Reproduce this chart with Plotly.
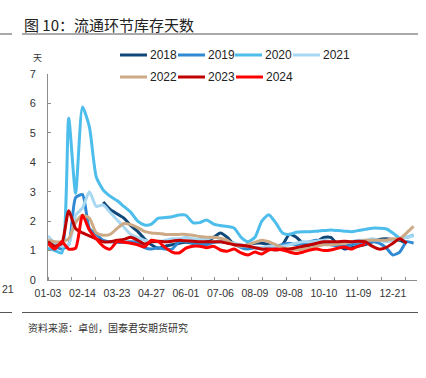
import plotly.graph_objects as go

# ---------------- data ----------------
tick_labels = ["01-03", "02-14", "03-23", "04-27", "06-01", "07-06",
               "08-09", "09-08", "10-10", "11-09", "12-21"]
tick_pos = [0, 5, 10, 15, 20, 25, 30, 35, 40, 45, 50]

years = ["2018", "2019", "2020", "2021", "2022", "2023", "2024"]

y2018 = [None, None, None, None, None, None, None, None,
         2.65, 2.4, 2.25, 2.1, 1.85, 1.65, 1.4, 1.2, 1.08, 1.15, 1.2, 1.25,
         1.28, 1.25, 1.25, 1.3, 1.45, 1.6, 1.45, 1.2, 1.15, 1.2, 1.25, 1.25,
         1.2, 1.1, 1.2, 1.55, 1.45, 1.25, 1.15, 1.3, 1.45, 1.45, 1.2, 1.05,
         1.1, 1.15, 1.2, 1.3, 1.38, 1.4, 1.38, 1.35, 1.25]
y2019 = [1.3, 1.15, 1.05, 1.2, 2.8, 2.9, 1.75, 1.55, 1.35, 1.3, 1.28, 1.28,
         1.3, 1.28, 1.1, 1.05, 1.1, 1.05, 1.05, 1.3, 1.3, 1.25, 1.22, 1.2,
         1.28, 1.3, 1.28, 1.25, 1.1, 1.05, 1.1, 1.05, 1.1, 1.15, 1.2, 1.25,
         1.2, 1.25, 1.3, 1.35, 1.25, 1.2, 1.15, 1.15, 1.2, 1.25, 1.25, 1.3,
         1.25, 1.1, 0.85, 0.95, 1.3, 1.25]
y2020 = [1.08, 1.0, 0.92, 5.5, 2.95, 5.88, 5.2, 3.5, 3.06, 2.85, 2.7, 2.5,
         2.3, 2.0, 1.87, 1.9, 2.1, 2.12, 2.15, 2.21, 2.2, 1.95, 1.95, 2.04,
         1.9, 1.85, 1.82, 1.76, 1.45, 1.3, 1.45, 2.0, 2.22, 1.95, 1.6, 1.55,
         1.62, 1.64, 1.64, 1.66, 1.68, 1.7, 1.68, 1.66, 1.64, 1.68, 1.72, 1.76,
         1.76, 1.74, 1.6, 1.42, 1.45, 1.53]
y2021 = [1.5, 1.25, 1.15, 1.2, 2.2, 2.45, 3.0, 2.5, 2.55, 2.3, 2.05, 1.8,
         1.55, 1.45, 1.35, 1.3, 1.3, 1.35, 1.4, 1.4, 1.45, 1.4, 1.38, 1.4,
         1.45, 1.4, 1.3, 1.25, 1.2, 1.15, 1.1, 1.1, 1.15, 1.15, 1.15, 1.2,
         1.25, 1.3, 1.3, 1.32, 1.35, 1.3, 1.25, 1.25, 1.3, 1.35, 1.35, 1.4,
         1.35, 1.3, 1.35, 1.4, 1.45, 1.5]
y2022 = [1.35, 1.3, 1.3, 1.4, 1.95, 2.2, 2.1, 1.6, 1.52, 1.55, 1.75, 1.92,
         1.88, 1.78, 1.65, 1.6, 1.58, 1.55, 1.55, 1.55, 1.55, 1.52, 1.48, 1.45,
         1.45, 1.42, 1.35, 1.2, 1.15, 1.2, 1.28, 1.35, 1.3, 1.2, 1.1, 1.05,
         1.02, 1.05, 1.1, 1.15, 1.2, 1.2, 1.22, 1.25, 1.3, 1.3, 1.35, 1.35,
         1.35, 1.35, 1.4, 1.4, 1.6, 1.82]
y2023 = [1.3, 1.15, 1.25, 2.35, 1.75, 1.6, 1.5, 1.4, 1.3, 1.3, 1.35, 1.38,
         1.45, 1.35, 1.22, 1.3, 1.32, 1.3, 1.32, 1.35, 1.33, 1.32, 1.3, 1.3,
         1.3, 1.3, 1.25, 1.2, 1.18, 1.15, 1.1, 1.05, 1.05, 1.02, 1.05, 1.05,
         1.1, 1.15, 1.2, 1.25, 1.3, 1.3, 1.3, 1.32, 1.3, 1.32, 1.3, 1.15,
         1.05, 1.1, 1.25, 1.4, 1.25]
y2024 = [1.25, 1.05, 1.3, 1.05, 1.08, 2.2, 1.7, 1.4, 1.15, 1.05, 1.3, 1.28,
         1.25, 1.2, 1.12, 1.35, 1.3, 1.1, 0.95, 0.92, 1.08, 1.15, 1.15, 1.1,
         1.15, 1.02, 0.98, 1.05, 0.92, 0.85, 0.95, 0.88, 1.02, 1.05, 1.02, 0.95,
         0.9, 0.95, 1.02, 1.05, 1.0, 1.02, 1.08, 1.12, 1.05, 1.15, 1.22]

series = [y2018, y2019, y2020, y2021, y2022, y2023, y2024]
colors = ["#0E4778", "#2F8AD3", "#4DBDEB", "#A8D7F2", "#CDAA86", "#C00000", "#FF0000"]

# ---------------- figure ----------------
fig = go.Figure()
for name, vals, col in zip(years, series, colors):
    fig.add_trace(go.Scatter(
        x=list(range(len(vals))), y=vals, name=name, mode="lines",
        line=dict(color=col, width=3, shape="spline", smoothing=0.6),
        showlegend=False, connectgaps=False))

axis_col = "#8C8C8C"
fig.update_layout(
    width=426, height=378,
    margin=dict(l=48, r=9, t=74, b=98),
    paper_bgcolor="white", plot_bgcolor="white",
    font=dict(family="Liberation Sans, Arial, sans-serif", color="#333333"),
    xaxis=dict(range=[0, 53.5], tickmode="array", tickvals=tick_pos,
               ticktext=tick_labels, ticks="", showgrid=False, zeroline=False,
               showline=True, linecolor=axis_col, linewidth=1,
               ticklabelstandoff=3,
               tickfont=dict(size=10.5, color="#333333"),
               minor=dict(ticks="inside", ticklen=3, tickcolor=axis_col,
                          tickmode="linear", tick0=0, dtick=3.457, showgrid=False)),
    yaxis=dict(range=[0, 7], tickmode="linear", tick0=0, dtick=1,
               ticks="inside", ticklen=3, tickcolor=axis_col,
               showgrid=False, zeroline=False, showline=True,
               linecolor=axis_col, linewidth=1, ticklabelstandoff=9,
               tickfont=dict(size=11, color="#333333")),
)

# title, rules, source
fig.add_annotation(text="图 10：流通环节库存天数", xref="paper", yref="paper",
                   x=-26 / 369, y=(280 - 24) / 206, xanchor="left", yanchor="middle",
                   showarrow=False,
                   font=dict(family="Noto Sans CJK SC", size=15, color="#222222"))
fig.add_annotation(text="天", xref="paper", yref="paper", x=-11 / 369,
                   y=(280 - 57) / 206, xanchor="center", yanchor="middle",
                   showarrow=False,
                   font=dict(family="Noto Sans CJK SC", size=9, color="#333333"))
fig.add_annotation(text="资料来源：卓创，国泰君安期货研究", xref="paper", yref="paper",
                   x=-22 / 369, y=(280 - 327) / 206, xanchor="left", yanchor="middle",
                   showarrow=False,
                   font=dict(family="Noto Sans CJK SC", size=10, color="#333333"))
fig.add_annotation(text="21", xref="paper", yref="paper", x=-48 / 369,
                   y=(280 - 289) / 206, xanchor="left", yanchor="middle",
                   showarrow=False, font=dict(size=10.5, color="#333333"))

def hline(x0, x1, yp, col="#555555"):
    fig.add_shape(type="line", xref="paper", yref="paper",
                  x0=(x0 - 48) / 369, x1=(x1 - 48) / 369,
                  y0=(280 - yp) / 206, y1=(280 - yp) / 206,
                  line=dict(color=col, width=1))

hline(22, 418, 34)
hline(0, 12, 34)
hline(22, 418, 312.5)
hline(0, 12, 312.5)

# manual legend
leg_x = [120, 178, 235, 293, 120, 178, 236]
leg_y = [55, 55, 55, 55, 77, 77, 77]
for name, col, lx, ly in zip(years, colors, leg_x, leg_y):
    fig.add_shape(type="line", xref="paper", yref="paper",
                  x0=(lx - 48) / 369, x1=(lx + 27 - 48) / 369,
                  y0=(280 - ly) / 206, y1=(280 - ly) / 206,
                  line=dict(color=col, width=3))
    fig.add_annotation(text=name, xref="paper", yref="paper",
                       x=(lx + 28 - 48) / 369, y=(280 - ly) / 206,
                       xanchor="left", yanchor="middle", showarrow=False,
                       font=dict(size=12, color="#222222"))

fig.write_html("out.html",
               config={"displayModeBar": False},
               post_script="document.body.style.margin='0';"
                           "document.body.style.padding='0';"
                           "window.dispatchEvent(new Event('resize'));")
